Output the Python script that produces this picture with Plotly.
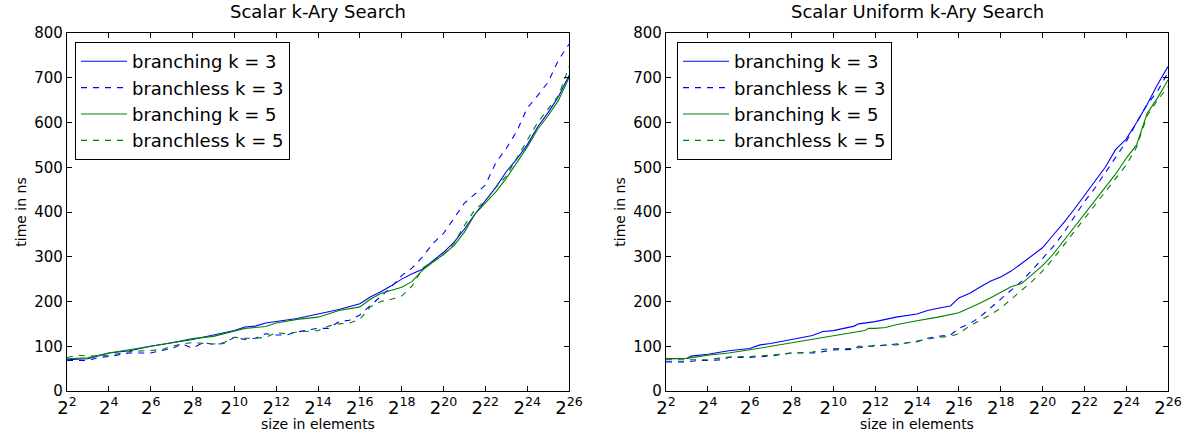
import plotly.graph_objects as go
from plotly.subplots import make_subplots

# ---------------- data (x = log2 of size in elements, y = time in ns) ----------------
titles = ["Scalar k-Ary Search", "Scalar Uniform k-Ary Search"]
series_names = ["branching k = 3", "branchless k = 3", "branching k = 5", "branchless k = 5"]
tick_exps = [2, 4, 6, 8, 10, 12, 14, 16, 18, 20, 22, 24, 26]
y_ticks = [0, 100, 200, 300, 400, 500, 600, 700, 800]

# Left: Scalar k-Ary Search
L_br3_exp = [2, 3, 4, 5, 6, 7, 8, 9, 10, 10.5, 11, 11.5, 12, 13, 14, 15, 16, 16.5, 17, 17.5, 18, 18.5, 19,
             19.5, 20, 20.5, 21, 21.5, 22, 22.5, 23, 23.5, 24, 24.5, 25, 25.5, 26]
L_br3_ns = [70, 72, 85, 90, 100, 107, 115, 125, 135, 143, 145, 152, 155, 162, 172, 182, 195, 210, 222, 235, 250,
            262, 272, 290, 310, 332, 362, 395, 425, 455, 490, 518, 550, 590, 622, 658, 705]

L_bl3_exp = [2, 3, 3.5, 4, 5, 6, 6.5, 7, 7.5, 8, 8.5, 9, 9.5, 10, 10.5, 11, 11.5, 12, 12.5, 13, 14, 14.5, 15,
             15.5, 16, 16.5, 17, 17.5, 18, 18.5, 19, 19.5, 20, 20.5, 21, 21.5, 22, 22.5, 23, 23.5, 24, 24.5, 25,
             25.5, 26]
L_bl3_ns = [68, 68, 75, 77, 85, 85, 90, 95, 105, 96, 108, 104, 106, 120, 115, 118, 128, 125, 125, 132, 140, 140,
            155, 158, 170, 190, 210, 232, 258, 275, 300, 330, 352, 385, 420, 440, 460, 510, 542, 580, 632, 660,
            690, 740, 775]

L_br5_exp = [2, 3, 4, 5, 6, 7, 8, 9, 10, 10.5, 11, 11.5, 12, 13, 14, 15, 16, 16.5, 17, 18, 18.5, 19, 19.5, 20,
             20.5, 21, 21.5, 22, 22.5, 23, 23.5, 24, 24.5, 25, 25.5, 26]
L_br5_ns = [72, 74, 85, 92, 100, 108, 117, 122, 133, 140, 142, 144, 152, 160, 165, 180, 188, 205, 218, 232, 245,
            270, 288, 305, 325, 355, 395, 420, 445, 475, 510, 545, 585, 615, 650, 700]

L_bl5_exp = [2, 2.5, 3, 4, 5, 6, 6.5, 7, 7.5, 8, 9, 9.5, 10, 10.5, 11, 11.5, 12, 12.5, 13, 14, 14.5, 15, 15.5,
             16, 16.5, 17, 17.5, 18, 18.5, 18.7, 19, 19.5, 20, 20.5, 21, 21.5, 22, 22.5, 23, 23.5, 24, 24.5, 25,
             25.5, 26]
L_bl5_ns = [75, 80, 78, 80, 88, 90, 92, 100, 105, 108, 105, 108, 120, 118, 118, 120, 130, 128, 132, 135, 145, 150,
            152, 160, 188, 200, 205, 212, 235, 250, 275, 290, 305, 330, 370, 405, 425, 455, 480, 520, 560, 600,
            630, 660, 725]

# Right: Scalar Uniform k-Ary Search
R_br3_exp = [2, 3, 3.2, 4, 5, 6, 6.5, 7, 8, 9, 9.5, 10, 11, 11.2, 12, 13, 14, 14.5, 15, 15.6, 16, 16.5, 17,
             17.5, 18, 18.5, 19, 19.5, 20, 20.5, 21, 21.5, 22, 22.5, 23, 23.5, 24, 24.5, 25, 25.5, 26]
R_br3_ns = [72, 73, 78, 82, 90, 95, 103, 106, 115, 124, 133, 135, 145, 150, 155, 165, 172, 180, 185, 190, 208,
            218, 232, 245, 255, 268, 285, 303, 320, 348, 375, 405, 437, 467, 500, 540, 563, 600, 640, 685, 725]

R_bl3_exp = [2, 3, 3.5, 4, 4.7, 5, 6, 7, 8, 9, 9.5, 10, 11, 11.2, 12, 13, 14, 14.5, 15, 15.6, 16, 16.5, 17,
             17.5, 18, 18.5, 19, 19.5, 20, 20.5, 21, 21.5, 22, 22.5, 23, 23.5, 24, 24.5, 25, 25.5, 26]
R_bl3_ns = [65, 65, 68, 68, 70, 75, 75, 78, 85, 85, 88, 92, 93, 100, 100, 105, 110, 118, 122, 125, 140, 150,
            165, 185, 205, 225, 245, 270, 295, 322, 352, 387, 423, 453, 487, 522, 557, 600, 640, 670, 712]

R_br5_exp = [2, 3, 4, 5, 6, 7, 8, 9, 9.5, 10, 11, 11.5, 11.7, 12, 12.5, 13, 14, 15, 16, 16.5, 17, 17.5, 18,
             18.5, 19, 19.5, 20, 20.5, 21, 21.5, 22, 22.5, 23, 23.5, 24, 24.5, 25, 25.5, 26]
R_br5_ns = [72, 73, 80, 85, 92, 100, 107, 115, 120, 123, 132, 135, 140, 140, 142, 148, 157, 165, 175, 185, 196,
            208, 220, 233, 240, 260, 280, 305, 335, 365, 395, 425, 455, 485, 520, 550, 620, 655, 695]

R_bl5_exp = [2, 3, 4, 5, 6, 7, 8, 9, 9.5, 10, 11, 11.7, 12, 13, 14, 15, 15.6, 16, 16.5, 17, 17.5, 18, 18.5, 19,
             19.5, 20, 20.5, 21, 21.5, 22, 22.5, 23, 23.5, 24, 24.5, 25, 25.5, 26]
R_bl5_ns = [70, 70, 70, 76, 77, 80, 85, 87, 93, 95, 95, 100, 102, 103, 112, 120, 122, 128, 145, 158, 170, 185,
            205, 225, 245, 268, 295, 325, 355, 385, 415, 445, 475, 505, 545, 615, 650, 680]

# ---------------- figure ----------------
W, H = 1183, 432
FONT = "DejaVu Sans, Liberation Sans, sans-serif"
BLUE, GREEN = "#0000ff", "#008000"
styles = [(BLUE, "solid"), (BLUE, "6px,6px"), (GREEN, "solid"), (GREEN, "6px,6px")]

fig = make_subplots(rows=1, cols=2, horizontal_spacing=0.05)

panels = [
    [(L_br3_exp, L_br3_ns), (L_bl3_exp, L_bl3_ns), (L_br5_exp, L_br5_ns), (L_bl5_exp, L_bl5_ns)],
    [(R_br3_exp, R_br3_ns), (R_bl3_exp, R_bl3_ns), (R_br5_exp, R_br5_ns), (R_bl5_exp, R_bl5_ns)],
]

for ci, panel in enumerate(panels):
    for si, (ex, ns) in enumerate(panel):
        color, dash = styles[si]
        fig.add_trace(
            go.Scatter(
                x=[2 ** e for e in ex], y=ns, mode="lines", name=series_names[si],
                line=dict(color=color, width=1.1, dash=dash),
                legend="legend" if ci == 0 else "legend2",
            ),
            row=1, col=ci + 1,
        )

top, bottom = 33, 41
plot_h = H - top - bottom
x_domains = [(67 / W, 569 / W), (666 / W, 1168 / W)]

tickvals = [2 ** e for e in tick_exps]
ticktext = [f"2<sup>{e}</sup>" for e in tick_exps]

for ci in range(2):
    xa = dict(
        type="log", range=[2 * 0.30103, 26 * 0.30103], domain=list(x_domains[ci]), automargin=False,
        tickvals=tickvals, ticktext=ticktext, ticks="inside", ticklen=5, tickwidth=1,
        tickcolor="black", showline=True, linecolor="black", linewidth=1.3, mirror="ticks",
        showgrid=False, zeroline=False, tickfont=dict(family=FONT, size=18, color="black"),
        title=dict(text="size in elements", font=dict(family=FONT, size=14, color="black"), standoff=2),
    )
    ya = dict(
        range=[0, 800], tickvals=y_ticks, ticks="inside", ticklen=5, tickwidth=1, tickcolor="black",
        automargin=False,
        showline=True, linecolor="black", linewidth=1.3, mirror="ticks", showgrid=False, zeroline=False,
        tickfont=dict(family=FONT, size=15, color="black"),
        title=dict(text="time in ns", font=dict(family=FONT, size=14, color="black"), standoff=4),
    )
    fig.update_xaxes(xa, row=1, col=ci + 1)
    fig.update_yaxes(ya, row=1, col=ci + 1)

annotations = []
for ci in range(2):
    cx = (x_domains[ci][0] + x_domains[ci][1]) / 2
    annotations.append(dict(
        text=titles[ci], x=cx, xref="paper", y=1, yref="paper", yshift=9,
        xanchor="center", yanchor="bottom", showarrow=False,
        font=dict(family=FONT, size=18, color="black"),
    ))

legend_common = dict(
    bgcolor="white", bordercolor="black", borderwidth=1,
    font=dict(family=FONT, size=18, color="black"),
    xanchor="left", yanchor="top", tracegroupgap=0, itemwidth=46,
)
fig.update_layout(
    width=W, height=H, template="simple_white",
    paper_bgcolor="white", plot_bgcolor="white",
    margin=dict(l=0, r=0, t=top, b=bottom, autoexpand=False),
    font=dict(family=FONT, color="black"),
    annotations=annotations,
    showlegend=True,
    legend=dict(legend_common, x=75 / W, y=1 - (42 - top) / plot_h),
    legend2=dict(legend_common, x=677 / W, y=1 - (42 - top) / plot_h),
)

fig.write_html(
    "out.html",
    config={"displayModeBar": False},
    post_script="document.body.style.margin='0';document.body.style.overflow='hidden';",
)
